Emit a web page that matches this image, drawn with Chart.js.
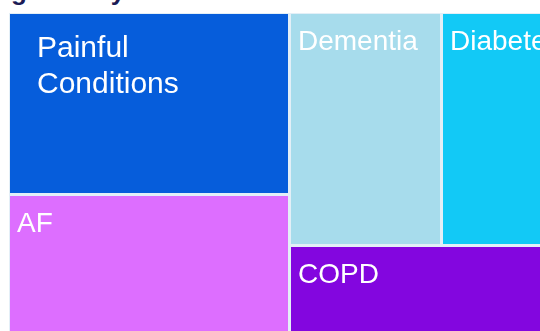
<!DOCTYPE html>
<html>
<head>
<meta charset="utf-8">
<script src="https://cdn.jsdelivr.net/npm/chart.js@4.4.1/dist/chart.umd.min.js"></script>
<style>
  html, body { margin: 0; padding: 0; background: #fff; overflow: hidden; width: 540px; height: 331px; }
  .heading {
    position: absolute; left: 11px; top: -57px; margin: 0;
    font: bold 26px/32px "Liberation Sans", Arial, sans-serif; color: #1b1b55; white-space: nowrap;
  }
  .wrap { position: absolute; left: 0; top: 0; width: 591px; height: 371px; }
</style>
</head>
<body>
<h2 class="heading">Long-term conditions managed<br>generally</h2>
<div class="wrap"><canvas id="conditionTree"></canvas></div>
<script>
// conditions and their patient counts, in the order they are laid out
const conditions = [['Painful', 'Conditions'], 'AF', 'Dementia', 'Diabetes', 'COPD'];
const patientCounts = [511, 495, 354, 347, 376];
const cellColours = ['#065ddb', '#dd6eff', '#a7dcec', '#12c9f6', '#8306df'];

// squarified treemap: returns one rect per value inside (x, y, w, h)
function squarify(values, x, y, w, h) {
    const total = values.reduce((a, b) => a + b, 0);
    const areas = values.map(v => v * w * h / total);
    const sum = arr => arr.reduce((a, b) => a + b, 0);
    const worst = (row, side) => {
        const s = sum(row);
        return Math.max(side * side * Math.max(...row) / (s * s), (s * s) / (side * side * Math.min(...row)));
    };
    const rects = [];
    let i = 0;
    while (i < areas.length) {
        const side = Math.min(w, h);
        const row = [areas[i]];
        let j = i + 1;
        while (j < areas.length && worst([...row, areas[j]], side) <= worst(row, side)) {
            row.push(areas[j]);
            j++;
        }
        const thick = sum(row) / side;
        let off = 0;
        row.forEach(a => {
            const len = a / thick;
            if (w >= h) rects.push({ x: x, y: y + off, w: thick, h: len });
            else rects.push({ x: x + off, y: y, w: len, h: thick });
            off += len;
        });
        if (w >= h) { x += thick; w -= thick; } else { y += thick; h -= thick; }
        i = j;
    }
    return rects;
}

const treemapCells = {
    id: 'treemapCells',
    afterDatasetsDraw(chart) {
        const { ctx, chartArea: area, scales: { x: xs, y: ys } } = chart;
        const ds = chart.data.datasets[0];
        const W = area.right - area.left, H = area.bottom - area.top;
        const rects = squarify(ds.values, 0, 0, W, H);

        ctx.save();
        ctx.fillStyle = '#e3eff7';
        ctx.fillRect(area.left, area.top, W, H);

        rects.forEach((r, i) => {
            const left = Math.round(xs.getPixelForValue(r.x / W));
            const right = Math.round(xs.getPixelForValue((r.x + r.w) / W));
            const top = Math.round(ys.getPixelForValue(r.y / H));
            const bottom = Math.round(ys.getPixelForValue((r.y + r.h) / H));
            ctx.fillStyle = ds.backgroundColor[i];
            ctx.fillRect(left + 1, top + 1, right - left - 3, bottom - top - 3);

            // label in the top left corner of the cell
            const label = chart.data.labels[i];
            const lines = Array.isArray(label) ? label : [label];
            ctx.save();
            ctx.beginPath();
            ctx.rect(left + 1, top + 1, right - left - 3, bottom - top - 3);
            ctx.clip();
            ctx.fillStyle = '#ffffff';
            ctx.textBaseline = 'alphabetic';
            if (lines.length > 1) {
                ctx.font = '30px "Liberation Sans", Arial, sans-serif';
                lines.forEach((t, k) => ctx.fillText(t, left + 28, top + 44 + k * 36));
            } else {
                ctx.font = '28px "Liberation Sans", Arial, sans-serif';
                ctx.fillText(lines[0], left + 8, top + 37);
            }
            ctx.restore();
        });
        ctx.restore();
    }
};

const treeCtx = document.getElementById('conditionTree').getContext('2d');
let treeChart = new Chart(treeCtx, {
    type: 'scatter',
    data: {
        labels: conditions,
        datasets: [{
            label: 'Patients',
            data: [],
            values: patientCounts,
            backgroundColor: cellColours
        }]
    },
    options: {
        responsive: true,
        maintainAspectRatio: false,
        animation: false,
        layout: { padding: { left: 9, top: 13, right: 0, bottom: 0 } },
        scales: {
            x: { type: 'linear', min: 0, max: 1, display: false },
            y: { type: 'linear', min: 0, max: 1, reverse: true, display: false }
        },
        plugins: {
            legend: { display: false },
            tooltip: { enabled: false }
        }
    },
    plugins: [treemapCells]
});
</script>
</body>
</html>
